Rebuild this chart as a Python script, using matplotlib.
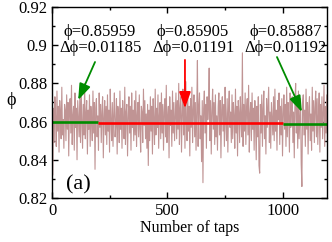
import matplotlib
matplotlib.use("Agg")
import matplotlib.pyplot as plt
from matplotlib.ticker import MultipleLocator
import numpy as np

plt.rcParams['font.family'] = ['Liberation Serif', 'DejaVu Serif']

# phi per tap, read every 3 taps, as offset from 0.859 in units of 1e-3
step = 3
dev = [
    23, -27, 8, -10, 14, 3, -12, 17, -4, 9, -15, 12, 5, -8, 19, -6, 2, -13, 10, 7,
    -9, 15, -3, 11, -17, 6, 13, -5, 20, -11, 4, 9, -14, 16, -2, 8, -19, 12, 3, -7,
    14, -10, 18, 1, -13, 10, -6, 21, -8, 5, 12, -16, 7, -3, 15, -12, 9, 2, -9, 17,
    -5, 11, -24, 8, 13, -7, 4, -14, 16, -2, 10, -10, 6, 14, -18, 3, 12, -6, 9, -11,
    15, -4, 7, -15, 18, 2, -9, 11, -12, 5, 16, -7, -1, 13, -16, 9, 4, -10, 17, -3,
    8, -13, 12, 1, -8, 19, -11, 6, 10, -17, 3, 14, -5, 9, -14, 16, -2, 7, -9, 12,
    -6, 17, -12, 4, 11, -7, 15, -3, -15, 9, 6, -10, 18, -1, 12, -8, 5, -13, 10, -22,
    7, -9, 14, -4, 9, -16, 13, 2, -11, 18, -6, 8, -2, 15, -13, 4, 11, -8, 16, -5,
    10, -14, 6, 13, -7, 20, -10, 3, 9, -18, 14, -1, 7, -12, 17, -5, 11, -9, 4, 16,
    -8, 12, -3, 21, -11, 8, 14, -15, 5, 18, -6, 10, -13, 22, 1, -9, 15, -4, 9, -17,
    13, -2, 19, -10, 7, 15, -7, 11, -14, 6, 33, -12, 9, 16, -8, 4, -20, 12, -31, 8,
    17, -5, 10, -13, 14, 2, 8, 29, -9, 12, -16, 6, 18, -3, 11, -11, 15, -7, 4, -14,
    9, 16, -6, 12, -18, 7, 14, -4, 10, -12, 19, 1, -9, 13, -15, 8, 17, -2, 6, -10,
    15, -8, 11, 4, -13, 18, -5, 9, -17, 12, 6, -10, 14, 2, -7, 37, -12, 10, -4, 16,
    -11, 7, 13, -6, 20, -15, 5, 11, -9, 16, -3, 8, -14, 12, 1, -19, 9, -7, 14, -22,
    -26, 10, -5, 15, -12, 8, 17, -8, 4, -16, 13, -2, 9, 19, -10, 6, -13, 11, 3, -6,
    14, -9, 18, -4, 7, -14, 12, 2, 16, -11, 9, -6, 13, -17, 5, 15, -3, 10, -12, 19,
    -7, 11, 4, -15, 16, -2, 8, 14, -10, 6, -18, 12, 21, -5, 9, -13, 17, -8, 3, 13,
    -21, -33, 10, 15, -6, 7, -12, 18, -3, 11, -16, 9, 14, -9, 5, -14, 19, -4, 12, -10,
    8, 17, -7, 13, -11, 4, 16, -15, 10, -2, 14, -8, 6, 20, -12, 9, -5, 15, -9, 3,
]
phi = 0.859 + np.array(dev) / 1000.0
taps = np.arange(len(phi)) * step

# segment means
seg_start = [0, 200, 1000]
seg_end = [200, 1000, 1200]
seg_mean = [0.85959, 0.85905, 0.85887]
seg_std = [0.01185, 0.01191, 0.01192]
seg_color = ['#008c00', '#ff0000', '#008c00']

fig = plt.figure(figsize=(3.32, 2.42), dpi=100)
ax = fig.add_axes([0.157, 0.182, 0.828, 0.789])

ax.plot(taps, phi, color='#c09494', lw=0.8)
for a, b, m, c in zip(seg_start, seg_end, seg_mean, seg_color):
    ax.plot([a, b], [m, m], color=c, lw=1.9, solid_capstyle='butt')

# labels with arrows: text position, arrow start, arrow end
txt_x = [208, 611, 1012]
arr_start = [(186, 0.8912), (576, 0.8923), (975, 0.8938)]
arr_end = [(113, 0.8713), (576, 0.8670), (1083, 0.8650)]
for i in range(3):
    ax.text(txt_x[i], 0.9027, 'ϕ=%.5f\nΔϕ=%.5f' % (seg_mean[i], seg_std[i]),
            ha='center', va='center', fontsize=12, linespacing=1.05)
    ax.annotate('', xy=arr_end[i], xytext=arr_start[i],
                arrowprops=dict(arrowstyle='-|>,head_length=0.7,head_width=0.25',
                                color=seg_color[i], lw=1.3,
                                mutation_scale=14, shrinkA=0, shrinkB=0))

ax.text(0.05, 0.07, '(a)', transform=ax.transAxes, fontsize=16, va='center')

ax.set_xlim(0, 1192)
ax.set_ylim(0.82, 0.92)
ax.xaxis.set_major_locator(MultipleLocator(500))
ax.xaxis.set_minor_locator(MultipleLocator(250))
ax.yaxis.set_minor_locator(MultipleLocator(0.01))
ax.set_yticks([0.82, 0.84, 0.86, 0.88, 0.9, 0.92])
ax.set_yticklabels(['0.82', '0.84', '0.86', '0.88', '0.9', '0.92'])
ax.tick_params(which='both', direction='in', top=True, right=True, labelsize=12)
ax.tick_params(which='major', length=4, width=1)
ax.tick_params(which='minor', length=2, width=1)
for s in ax.spines.values():
    s.set_linewidth(1)

ax.set_xlabel('Number of taps', fontsize=11.5, labelpad=1)
ax.set_ylabel('ϕ', fontsize=13, rotation=0, va='center')
ax.yaxis.set_label_coords(-0.15, 0.51)

fig.savefig('out.png', dpi=100)
